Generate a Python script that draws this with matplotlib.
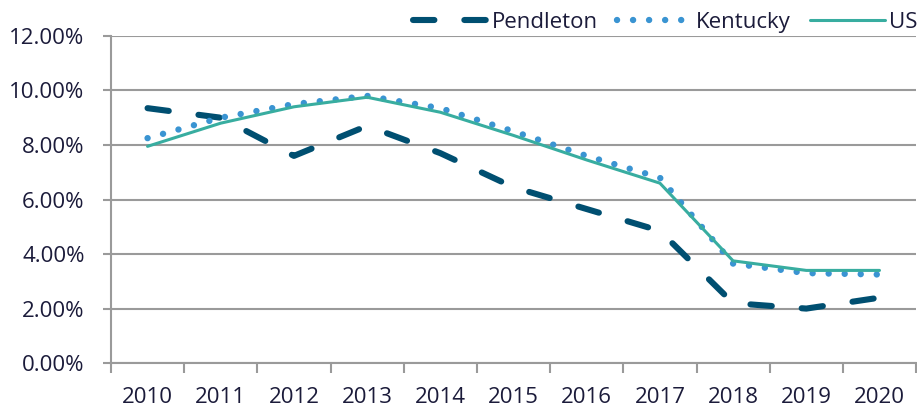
import matplotlib.pyplot as plt
from matplotlib.ticker import FuncFormatter, FixedLocator

# Unemployment rate (%) by year
years = ["2010", "2011", "2012", "2013", "2014", "2015", "2016", "2017", "2018", "2019", "2020"]
pendleton = [9.35, 9.0, 7.6, 8.7, 7.7, 6.45, 5.65, 4.85, 2.2, 2.0, 2.4]
kentucky = [8.25, 9.0, 9.5, 9.8, 9.35, 8.5, 7.6, 6.8, 3.65, 3.3, 3.25]
us = [7.95, 8.8, 9.4, 9.75, 9.2, 8.35, 7.45, 6.6, 3.75, 3.4, 3.4]

TEXT = "#1b1b3a"
GRID = "#9a9a9a"
FS = 16

plt.rcParams["font.family"] = ["Open Sans", "DejaVu Sans"]

fig = plt.figure(figsize=(9.17, 4.08), dpi=100)
ax = fig.add_axes([0.121, 0.110, 0.878, 0.802])

x = list(range(len(years)))
ax.plot(x, pendleton, color="#004f71", lw=4.4, dashes=(3.5, 4.9),
        dash_capstyle="round", solid_capstyle="round", label="Pendleton")
ax.plot(x, kentucky, color="#3a94d2", lw=4.6, dashes=(0.01, 2.5),
        dash_capstyle="round", label="Kentucky")
ax.plot(x, us, color="#38ada0", lw=2.2, solid_capstyle="round", label="US")

ax.set_xlim(-0.5, len(years) - 0.5)
ax.set_ylim(0, 12)
ax.set_yticks(range(0, 13, 2))
ax.yaxis.set_major_formatter(FuncFormatter(lambda v, p: f"{v:.2f}%"))
ax.grid(axis="y", color=GRID, lw=1.5)
ax.set_axisbelow(True)

# category labels centered, tick marks on category boundaries
ax.set_xticks(x)
ax.set_xticklabels(years)
ax.xaxis.set_minor_locator(FixedLocator([i - 0.5 for i in range(len(years) + 1)]))
ax.tick_params(axis="x", which="major", length=0, pad=17, labelsize=FS, labelcolor=TEXT)
ax.tick_params(axis="x", which="minor", length=7, width=1.5, color=GRID)
ax.tick_params(axis="y", length=6, width=1.5, color=GRID, pad=13, labelsize=FS, labelcolor=TEXT)

for side in ["top", "right"]:
    ax.spines[side].set_visible(False)
for side in ["left", "bottom"]:
    ax.spines[side].set_color(GRID)
    ax.spines[side].set_linewidth(1.5)

fig.legend(loc="center right", bbox_to_anchor=(1.0, 0.945), ncol=3, frameon=False,
           fontsize=FS, handlelength=3.4, handletextpad=0.15, columnspacing=0.85,
           borderaxespad=0, borderpad=0, labelcolor=TEXT)

plt.savefig("out.png", dpi=100)
